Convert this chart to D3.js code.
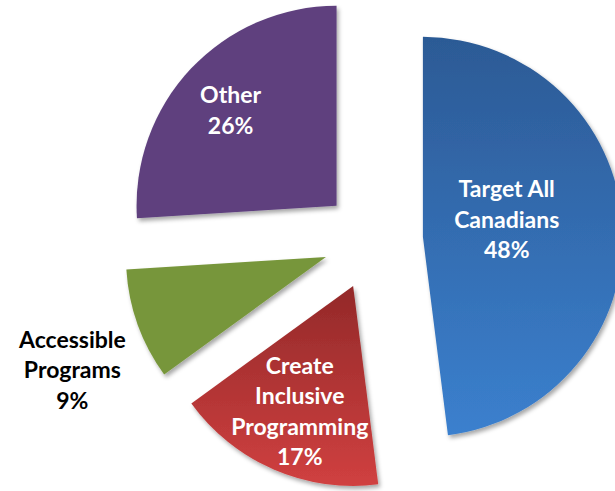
<!DOCTYPE html>
<html><head><meta charset="utf-8">
<script src="https://cdn.jsdelivr.net/npm/d3@7"></script>
<style>html,body{margin:0;padding:0;background:#fff;}svg{display:block;}</style>
</head><body>
<svg id="chart" width="615" height="491"></svg>
<script>
// Data
const categories = ["Target All Canadians", "Create Inclusive Programming", "Accessible Programs", "Other"];
const values = [48, 17, 9, 26];
const labelLines = [["Target All", "Canadians"], ["Create", "Inclusive", "Programming"], ["Accessible", "Programs"], ["Other"]];

// Styles / layout
const colorsTop = ["#2c5a95", "#932929", "#77963a", "#5e407e"];
const colorsBottom = ["#3b80ce", "#d04040", "#77963a", "#5e407e"];
const labelColors = ["#ffffff", "#ffffff", "#000000", "#ffffff"];
const labelRadiusFactor = [0.43, 0.71, 1.39, 0.72];
const labelNudge = [[-2, -12], [3, -5], [8, 19], [-1, 3]];

const W = 615, H = 491;
const cx = 373, cy = 240, R = 200, explode = 50;
const fontSize = 23, lineH = 30.5;

const svg = d3.select("#chart");
const defs = svg.append("defs");
const f = defs.append("filter").attr("id", "shadow").attr("x", "-20%").attr("y", "-20%").attr("width", "140%").attr("height", "140%");
f.append("feDropShadow").attr("dx", 2).attr("dy", 3).attr("stdDeviation", 2).attr("flood-color", "#000").attr("flood-opacity", 0.35);

const pie = d3.pie().sort(null).value(d => d);
const arcs = pie(values);
const arc = d3.arc().innerRadius(0).outerRadius(R);

arcs.forEach((a, i) => {
  const g = defs.append("linearGradient").attr("id", "grad" + i)
    .attr("x1", 0).attr("x2", 0).attr("y1", 0).attr("y2", 1);
  g.append("stop").attr("offset", "0%").attr("stop-color", colorsTop[i]);
  g.append("stop").attr("offset", "100%").attr("stop-color", colorsBottom[i]);
});

const sliceCenter = a => {
  const m = (a.startAngle + a.endAngle) / 2;
  return [cx + explode * Math.sin(m), cy - explode * Math.cos(m)];
};

const slices = svg.selectAll("g.slice").data(arcs).join("g")
  .attr("class", "slice")
  .attr("transform", d => { const c = sliceCenter(d); return `translate(${c[0]},${c[1]})`; });

slices.append("path")
  .attr("d", arc)
  .attr("fill", (d, i) => `url(#grad${i})`)
  .attr("filter", "url(#shadow)");

// Labels
arcs.forEach((a, i) => {
  const c = sliceCenter(a);
  const m = (a.startAngle + a.endAngle) / 2;
  const r = R * labelRadiusFactor[i];
  const lx = c[0] + r * Math.sin(m) + labelNudge[i][0];
  const ly = c[1] - r * Math.cos(m) + labelNudge[i][1];
  const lines = labelLines[i].concat([values[i] + "%"]);
  const n = lines.length;
  const t = svg.append("text")
    .attr("text-anchor", "middle")
    .attr("font-family", "Lato, 'Open Sans', sans-serif")
    .attr("font-weight", "bold")
    .attr("font-size", fontSize)
    .attr("fill", labelColors[i]);
  lines.forEach((ln, k) => {
    t.append("tspan").attr("x", lx)
      .attr("y", ly - (n - 1) * lineH / 2 + k * lineH + fontSize * 0.36)
      .text(ln);
  });
});
</script>
</body></html>
